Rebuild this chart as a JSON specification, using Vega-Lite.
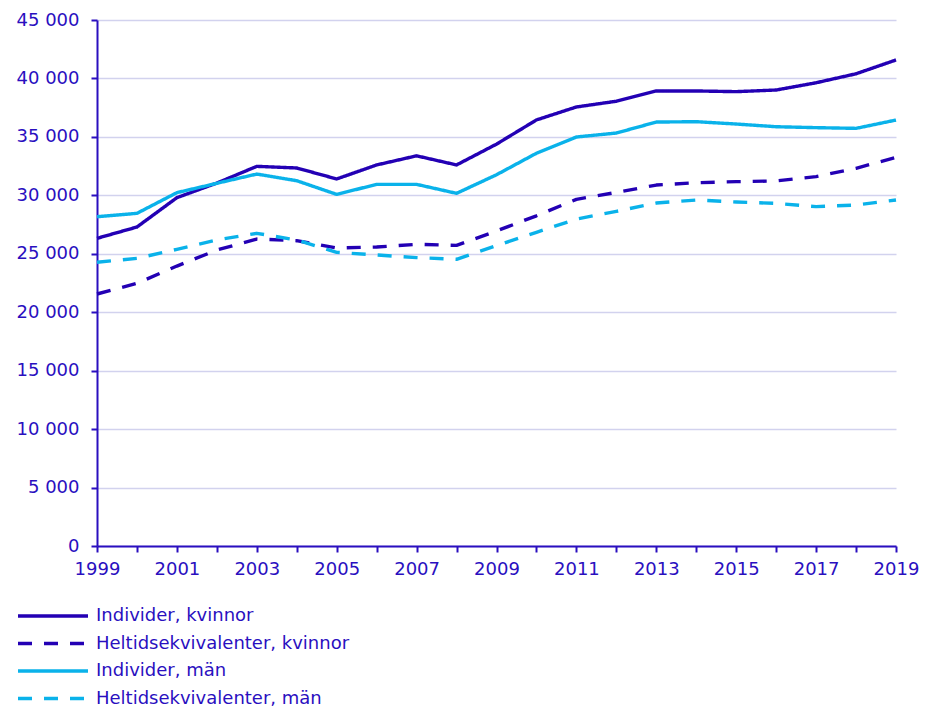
{
  "$schema": "https://vega.github.io/schema/vega-lite/v6.json",
  "width": 799,
  "height": 526,
  "autosize": {"type": "none"},
  "padding": {"left": 97, "top": 20, "right": 30, "bottom": 161},
  "background": "white",
  "config": {
    "view": {"stroke": null},
    "font": "DejaVu Sans",
    "locale": {"number": {"decimal": ",", "thousands": " ", "grouping": [3], "currency": ["", " kr"]}}
  },
  "data": {
    "values": [
      {"year": 1999, "serie": "Individer, kvinnor", "value": 26320},
      {"year": 2000, "serie": "Individer, kvinnor", "value": 27290},
      {"year": 2001, "serie": "Individer, kvinnor", "value": 29800},
      {"year": 2002, "serie": "Individer, kvinnor", "value": 31050},
      {"year": 2003, "serie": "Individer, kvinnor", "value": 32480},
      {"year": 2004, "serie": "Individer, kvinnor", "value": 32340},
      {"year": 2005, "serie": "Individer, kvinnor", "value": 31400},
      {"year": 2006, "serie": "Individer, kvinnor", "value": 32600},
      {"year": 2007, "serie": "Individer, kvinnor", "value": 33380},
      {"year": 2008, "serie": "Individer, kvinnor", "value": 32600},
      {"year": 2009, "serie": "Individer, kvinnor", "value": 34380},
      {"year": 2010, "serie": "Individer, kvinnor", "value": 36450},
      {"year": 2011, "serie": "Individer, kvinnor", "value": 37560},
      {"year": 2012, "serie": "Individer, kvinnor", "value": 38050},
      {"year": 2013, "serie": "Individer, kvinnor", "value": 38930},
      {"year": 2014, "serie": "Individer, kvinnor", "value": 38930},
      {"year": 2015, "serie": "Individer, kvinnor", "value": 38870},
      {"year": 2016, "serie": "Individer, kvinnor", "value": 39010},
      {"year": 2017, "serie": "Individer, kvinnor", "value": 39630},
      {"year": 2018, "serie": "Individer, kvinnor", "value": 40400},
      {"year": 2019, "serie": "Individer, kvinnor", "value": 41580},
      {"year": 1999, "serie": "Heltidsekvivalenter, kvinnor", "value": 21560},
      {"year": 2000, "serie": "Heltidsekvivalenter, kvinnor", "value": 22470},
      {"year": 2001, "serie": "Heltidsekvivalenter, kvinnor", "value": 23950},
      {"year": 2002, "serie": "Heltidsekvivalenter, kvinnor", "value": 25320},
      {"year": 2003, "serie": "Heltidsekvivalenter, kvinnor", "value": 26260},
      {"year": 2004, "serie": "Heltidsekvivalenter, kvinnor", "value": 26120},
      {"year": 2005, "serie": "Heltidsekvivalenter, kvinnor", "value": 25490},
      {"year": 2006, "serie": "Heltidsekvivalenter, kvinnor", "value": 25580},
      {"year": 2007, "serie": "Heltidsekvivalenter, kvinnor", "value": 25810},
      {"year": 2008, "serie": "Heltidsekvivalenter, kvinnor", "value": 25720},
      {"year": 2009, "serie": "Heltidsekvivalenter, kvinnor", "value": 26950},
      {"year": 2010, "serie": "Heltidsekvivalenter, kvinnor", "value": 28250},
      {"year": 2011, "serie": "Heltidsekvivalenter, kvinnor", "value": 29660},
      {"year": 2012, "serie": "Heltidsekvivalenter, kvinnor", "value": 30250},
      {"year": 2013, "serie": "Heltidsekvivalenter, kvinnor", "value": 30880},
      {"year": 2014, "serie": "Heltidsekvivalenter, kvinnor", "value": 31080},
      {"year": 2015, "serie": "Heltidsekvivalenter, kvinnor", "value": 31170},
      {"year": 2016, "serie": "Heltidsekvivalenter, kvinnor", "value": 31230},
      {"year": 2017, "serie": "Heltidsekvivalenter, kvinnor", "value": 31600},
      {"year": 2018, "serie": "Heltidsekvivalenter, kvinnor", "value": 32310},
      {"year": 2019, "serie": "Heltidsekvivalenter, kvinnor", "value": 33250},
      {"year": 1999, "serie": "Individer, män", "value": 28170},
      {"year": 2000, "serie": "Individer, män", "value": 28460},
      {"year": 2001, "serie": "Individer, män", "value": 30230},
      {"year": 2002, "serie": "Individer, män", "value": 31030},
      {"year": 2003, "serie": "Individer, män", "value": 31820},
      {"year": 2004, "serie": "Individer, män", "value": 31250},
      {"year": 2005, "serie": "Individer, män", "value": 30080},
      {"year": 2006, "serie": "Individer, män", "value": 30940},
      {"year": 2007, "serie": "Individer, män", "value": 30940},
      {"year": 2008, "serie": "Individer, män", "value": 30170},
      {"year": 2009, "serie": "Individer, män", "value": 31760},
      {"year": 2010, "serie": "Individer, män", "value": 33600},
      {"year": 2011, "serie": "Individer, män", "value": 34990},
      {"year": 2012, "serie": "Individer, män", "value": 35330},
      {"year": 2013, "serie": "Individer, män", "value": 36270},
      {"year": 2014, "serie": "Individer, män", "value": 36300},
      {"year": 2015, "serie": "Individer, män", "value": 36100},
      {"year": 2016, "serie": "Individer, män", "value": 35870},
      {"year": 2017, "serie": "Individer, män", "value": 35790},
      {"year": 2018, "serie": "Individer, män", "value": 35730},
      {"year": 2019, "serie": "Individer, män", "value": 36440},
      {"year": 1999, "serie": "Heltidsekvivalenter, män", "value": 24270},
      {"year": 2000, "serie": "Heltidsekvivalenter, män", "value": 24610},
      {"year": 2001, "serie": "Heltidsekvivalenter, män", "value": 25380},
      {"year": 2002, "serie": "Heltidsekvivalenter, män", "value": 26180},
      {"year": 2003, "serie": "Heltidsekvivalenter, män", "value": 26750},
      {"year": 2004, "serie": "Heltidsekvivalenter, män", "value": 26180},
      {"year": 2005, "serie": "Heltidsekvivalenter, män", "value": 25120},
      {"year": 2006, "serie": "Heltidsekvivalenter, män", "value": 24900},
      {"year": 2007, "serie": "Heltidsekvivalenter, män", "value": 24670},
      {"year": 2008, "serie": "Heltidsekvivalenter, män", "value": 24530},
      {"year": 2009, "serie": "Heltidsekvivalenter, män", "value": 25700},
      {"year": 2010, "serie": "Heltidsekvivalenter, män", "value": 26840},
      {"year": 2011, "serie": "Heltidsekvivalenter, män", "value": 27970},
      {"year": 2012, "serie": "Heltidsekvivalenter, män", "value": 28630},
      {"year": 2013, "serie": "Heltidsekvivalenter, män", "value": 29340},
      {"year": 2014, "serie": "Heltidsekvivalenter, män", "value": 29600},
      {"year": 2015, "serie": "Heltidsekvivalenter, män", "value": 29430},
      {"year": 2016, "serie": "Heltidsekvivalenter, män", "value": 29310},
      {"year": 2017, "serie": "Heltidsekvivalenter, män", "value": 29030},
      {"year": 2018, "serie": "Heltidsekvivalenter, män", "value": 29170},
      {"year": 2019, "serie": "Heltidsekvivalenter, män", "value": 29600}
    ]
  },
  "mark": {"type": "line", "strokeWidth": 3.4, "strokeCap": "butt", "strokeJoin": "round"},
  "encoding": {
    "x": {
      "field": "year",
      "type": "quantitative",
      "scale": {"domain": [1999, 2019], "nice": false, "zero": false},
      "axis": {
        "title": null,
        "values": [1999, 2000, 2001, 2002, 2003, 2004, 2005, 2006, 2007, 2008, 2009, 2010, 2011, 2012, 2013, 2014, 2015, 2016, 2017, 2018, 2019],
        "labelExpr": "datum.value % 2 == 1 ? format(datum.value, 'd') : ''",
        "labelOverlap": false,
        "labelFlush": false,
        "labelBound": false,
        "grid": false,
        "domainColor": "#2a0fbf",
        "domainWidth": 2,
        "tickColor": "#2a0fbf",
        "tickWidth": 2,
        "tickSize": 6,
        "labelColor": "#2a0fbf",
        "labelFont": "DejaVu Sans",
        "labelFontSize": 18,
        "labelPadding": 8
      }
    },
    "y": {
      "field": "value",
      "type": "quantitative",
      "scale": {"domain": [0, 45000], "nice": false},
      "axis": {
        "title": null,
        "values": [0, 5000, 10000, 15000, 20000, 25000, 30000, 35000, 40000, 45000],
        "format": ",d",
        "grid": true,
        "gridColor": "#d2d2ee",
        "gridWidth": 1.5,
        "domainColor": "#2a0fbf",
        "domainWidth": 2,
        "tickColor": "#2a0fbf",
        "tickWidth": 2,
        "tickSize": 6,
        "labelColor": "#2a0fbf",
        "labelFont": "DejaVu Sans",
        "labelFontSize": 18,
        "labelPadding": 12
      }
    },
    "color": {
      "field": "serie",
      "type": "nominal",
      "scale": {
        "domain": ["Individer, kvinnor", "Heltidsekvivalenter, kvinnor", "Individer, män", "Heltidsekvivalenter, män"],
        "range": ["#2300b4", "#2300b4", "#0ab2ea", "#0ab2ea"]
      },
      "legend": {
        "title": null,
        "orient": "none",
        "legendX": -53,
        "legendY": 587,
        "direction": "vertical",
        "padding": 0,
        "symbolType": "M-5,0H5",
        "symbolSize": 196,
        "symbolStrokeWidth": 3.5,
        "labelFont": "DejaVu Sans",
        "labelFontSize": 18,
        "labelColor": "#2a0fbf",
        "labelOffset": 34,
        "labelLimit": 500,
        "rowPadding": 9.5
      }
    },
    "strokeDash": {
      "field": "serie",
      "type": "nominal",
      "scale": {
        "domain": ["Individer, kvinnor", "Heltidsekvivalenter, kvinnor", "Individer, män", "Heltidsekvivalenter, män"],
        "range": [[1, 0], [14, 12], [1, 0], [14, 12]]
      },
      "legend": null
    }
  }
}
